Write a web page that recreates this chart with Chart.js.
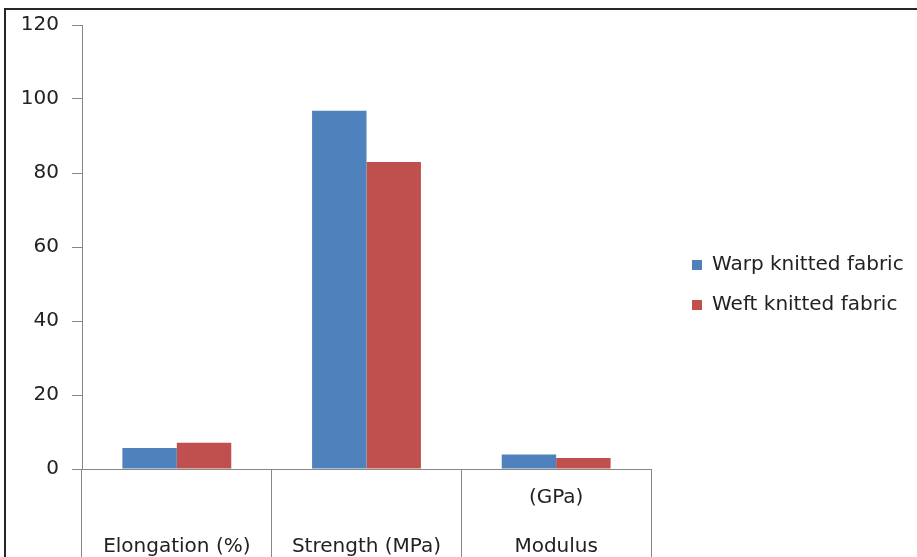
<!DOCTYPE html>
<html><head><meta charset="utf-8">
<script src="https://cdn.jsdelivr.net/npm/chart.js@4"></script>
<style>
html,body{margin:0;padding:0;background:#fff;overflow:hidden;width:917px;height:557px;}
#frame{position:absolute;left:4px;top:8px;width:1000px;height:1000px;border:2px solid #262626;box-sizing:border-box;}
#wrap{position:absolute;left:0;top:0;width:917px;height:557px;}
</style></head><body>
<div id="frame"></div>
<div id="wrap"><canvas id="c" width="917" height="557"></canvas></div>
<script>
const categories = [["", "Elongation (%)"], ["", "Strength (MPa)"], ["(GPa)", "Modulus"]];
const seriesNames = ["Warp knitted fabric", "Weft knitted fabric"];
const warpValues = [5.7, 96.8, 3.9];
const weftValues = [7.1, 83, 3.0];
const yTicks = [0, 20, 40, 60, 80, 100, 120];
const seriesColors = ["#4F81BD", "#C0504D"];

const FONT = '"DejaVu Sans", Verdana, sans-serif';
const TEXT = '#222222';
const AXIS = '#868686';

const sideLegend = {
  id: 'sideLegend',
  afterDraw(chart) {
    const ctx = chart.ctx;
    ctx.save();
    ctx.font = '20px ' + FONT;
    ctx.textBaseline = 'middle';
    ctx.textAlign = 'left';
    chart.data.datasets.forEach((ds, i) => {
      const y = 265 + i * 40;
      ctx.fillStyle = ds.backgroundColor;
      ctx.fillRect(692, y - 5, 10, 10);
      ctx.fillStyle = TEXT;
      ctx.fillText(ds.label, 712, y);
    });
    ctx.restore();
  }
};

new Chart(document.getElementById('c'), {
  type: 'bar',
  data: {
    labels: categories,
    datasets: [
      { label: seriesNames[0], data: warpValues, backgroundColor: seriesColors[0], borderColor: seriesColors[0], borderWidth: 0 },
      { label: seriesNames[1], data: weftValues, backgroundColor: seriesColors[1], borderColor: seriesColors[1], borderWidth: 0 }
    ]
  },
  options: {
    responsive: false,
    animation: false,
    layout: { padding: { left: 0, top: 25, right: 266, bottom: 0 } },
    datasets: { bar: { categoryPercentage: 0.574, barPercentage: 1.0 } },
    plugins: { legend: { display: false }, tooltip: { enabled: false } },
    scales: {
      x: {
        type: 'category',
        offset: true,
        grid: { offset: true, drawOnChartArea: false, drawTicks: true, tickLength: 100, color: AXIS, lineWidth: 1 },
        border: { display: true, color: AXIS, width: 1 },
        ticks: { padding: -95, color: TEXT, font: { family: FONT, size: 20, lineHeight: 2.42 }, maxRotation: 0, autoSkip: false },
        afterFit(scale) { scale.height = 88; }
      },
      y: {
        min: yTicks[0],
        max: yTicks[yTicks.length - 1],
        ticks: { stepSize: yTicks[1] - yTicks[0], padding: 13, color: TEXT, font: { family: FONT, size: 20 } },
        grid: { drawOnChartArea: false, drawTicks: true, tickLength: 10, color: AXIS },
        border: { display: true, color: AXIS, width: 1 },
        afterFit(scale) { scale.width = 82; }
      }
    }
  },
  plugins: [sideLegend]
});
</script>
</body></html>
